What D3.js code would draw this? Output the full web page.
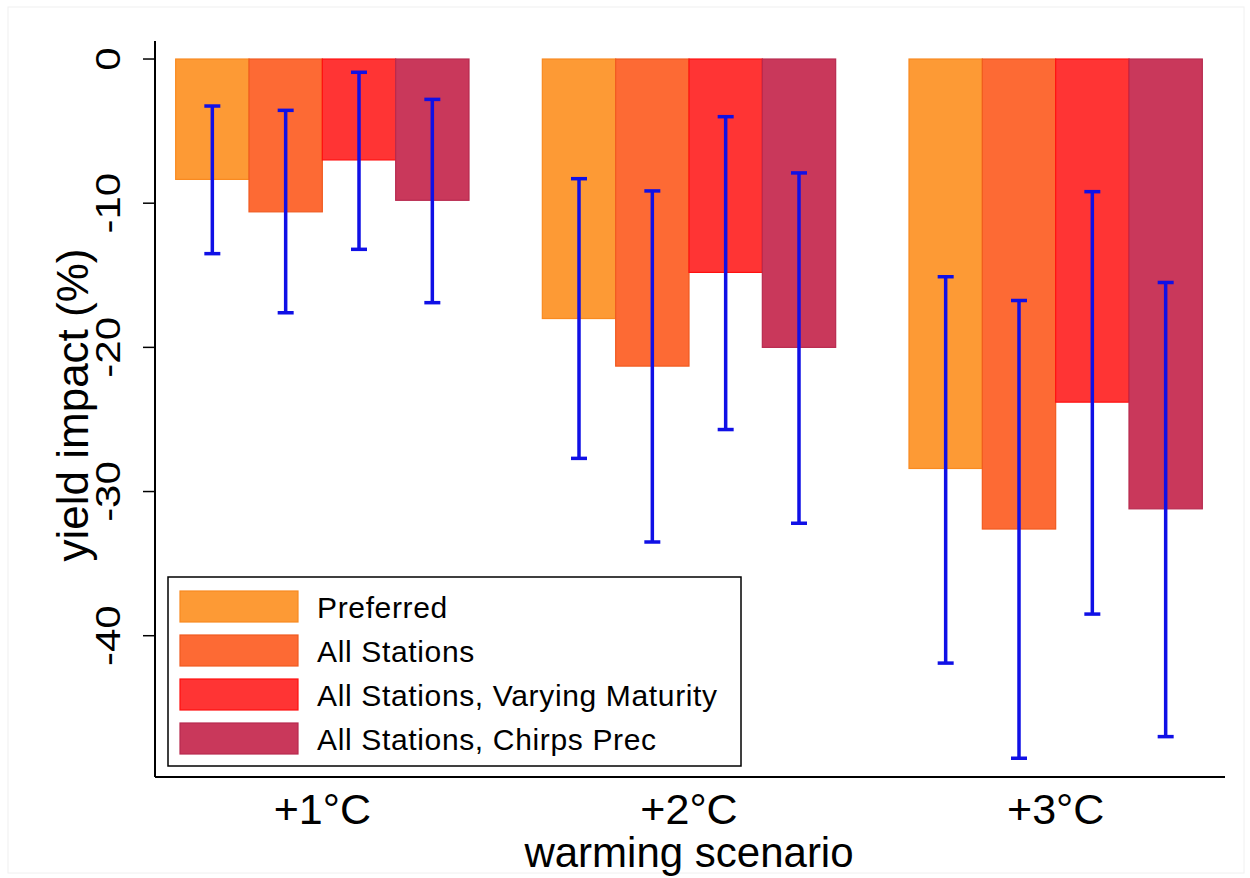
<!DOCTYPE html>
<meta charset="utf-8">
<style>
body { margin: 0; background: #fff; }
text { font-family: Arial, "Liberation Sans", Helvetica, sans-serif; fill: #000; }
.errbar line { stroke: #1010e6; stroke-width: 3.5px; }
</style>
<body>
<svg width="1250" height="878"></svg>
<script src="https://d3js.org/d3.v7.min.js"></script>
<script>

// scenarios on the x axis
var scenarios = ["+1°C", "+2°C", "+3°C"];
var seriesNames = ["Preferred", "All Stations", "All Stations, Varying Maturity", "All Stations, Chirps Prec"];
var fillColors = ["#fd9a35", "#fd6a34", "#ff3434", "#c9385b"];
var edgeColors = ["#f98a20", "#f05a20", "#ff1010", "#b82a4f"];

// bar values (yield impact %), one array per series, in scenario order
var preferred = [-8.35, -18.0, -28.4];
var allStations = [-10.6, -21.3, -32.6];
var varyingMaturity = [-7.0, -14.8, -23.8];
var chirpsPrec = [-9.8, -20.0, -31.2];

// confidence interval ends
var preferredHi = [-3.26, -8.3, -15.1];
var preferredLo = [-13.5, -27.7, -41.9];
var allStationsHi = [-3.56, -9.15, -16.75];
var allStationsLo = [-17.6, -33.5, -48.5];
var varyingHi = [-0.92, -4.0, -9.2];
var varyingLo = [-13.2, -25.7, -38.5];
var chirpsHi = [-2.8, -7.9, -15.5];
var chirpsLo = [-16.9, -32.2, -47.0];

var yTicks = [0, -10, -20, -30, -40];

var values = [preferred, allStations, varyingMaturity, chirpsPrec];
var his = [preferredHi, allStationsHi, varyingHi, chirpsHi];
var los = [preferredLo, allStationsLo, varyingLo, chirpsLo];

var rows = [];
scenarios.forEach(function(s, i) {
  seriesNames.forEach(function(n, j) {
    rows.push({scen: s, series: j, v: values[j][i], hi: his[j][i], lo: los[j][i]});
  });
});

var svg = d3.select("svg");

// faint frame
svg.append("rect").attr("x", 8).attr("y", 7).attr("width", 1236).attr("height", 866)
  .attr("fill", "none").attr("stroke", "#f0f0f0").attr("stroke-width", 1);

var y = d3.scaleLinear().domain([-49.8, 1.25]).range([777, 41]);
var x0 = d3.scaleBand().domain(scenarios).range([139, 1239]).paddingInner(0.2).paddingOuter(0.1);
var x1 = d3.scaleBand().domain(d3.range(seriesNames.length)).range([0, x0.bandwidth()]);

// bars
svg.append("g").selectAll("rect")
  .data(rows)
  .enter().append("rect")
    .attr("x", function(d) { return x0(d.scen) + x1(d.series); })
    .attr("y", function(d) { return y(0); })
    .attr("width", x1.bandwidth())
    .attr("height", function(d) { return y(d.v) - y(0); })
    .attr("fill", function(d) { return fillColors[d.series]; })
    .attr("stroke", function(d) { return edgeColors[d.series]; })
    .attr("stroke-width", 1.2);

// error bars
var eb = svg.append("g").attr("class", "errbar").selectAll("g")
  .data(rows)
  .enter().append("g")
    .attr("transform", function(d) { return "translate(" + (x0(d.scen) + x1(d.series) + x1.bandwidth() / 2) + ",0)"; });
eb.append("line").attr("x1", 0).attr("x2", 0)
  .attr("y1", function(d) { return y(d.hi); }).attr("y2", function(d) { return y(d.lo); });
eb.append("line").attr("x1", -8).attr("x2", 8)
  .attr("y1", function(d) { return y(d.hi); }).attr("y2", function(d) { return y(d.hi); });
eb.append("line").attr("x1", -8).attr("x2", 8)
  .attr("y1", function(d) { return y(d.lo); }).attr("y2", function(d) { return y(d.lo); });

// y axis
var yAxis = svg.append("g").attr("transform", "translate(155,0)");
yAxis.append("line").attr("x1", 0).attr("x2", 0).attr("y1", y.range()[1]).attr("y2", y.range()[0])
  .attr("stroke", "#000").attr("stroke-width", 2);
var yt = yAxis.selectAll(".tick").data(yTicks).enter().append("g")
  .attr("transform", function(d) { return "translate(0," + y(d) + ")"; });
yt.append("line").attr("x1", -12).attr("x2", 0).attr("stroke", "#000").attr("stroke-width", 1.5);
yt.append("text")
  .attr("transform", "translate(-35,0) rotate(-90) scale(1.2,1)")
  .attr("text-anchor", "middle")
  .style("font-size", "35px")
  .text(function(d) { return String(d); });

svg.append("text")
  .attr("transform", "translate(88,405) rotate(-90)")
  .attr("text-anchor", "middle")
  .style("font-size", "44px")
  .text("yield impact (%)");

// x axis
svg.append("line").attr("x1", 155).attr("x2", 1225).attr("y1", 777).attr("y2", 777)
  .attr("stroke", "#000").attr("stroke-width", 2);
svg.append("g").selectAll("text").data(scenarios).enter().append("text")
  .attr("x", function(d) { return x0(d) + x0.bandwidth() / 2; })
  .attr("y", 824)
  .attr("text-anchor", "middle")
  .style("font-size", "43px")
  .text(function(d) { return d; });
svg.append("text")
  .attr("x", 689).attr("y", 867)
  .attr("text-anchor", "middle")
  .style("font-size", "42px")
  .text("warming scenario");

// legend
var legend = svg.append("g");
legend.append("rect").attr("x", 168).attr("y", 577).attr("width", 573).attr("height", 189)
  .attr("fill", "#fff").attr("stroke", "#000").attr("stroke-width", 1.5);
var li = legend.selectAll(".item").data(seriesNames).enter().append("g")
  .attr("transform", function(d, i) { return "translate(180," + (591 + i * 44) + ")"; });
li.append("rect").attr("width", 118).attr("height", 31)
  .attr("fill", function(d, i) { return fillColors[i]; })
  .attr("stroke", function(d, i) { return edgeColors[i]; })
  .attr("stroke-width", 1.2);
li.append("text").attr("x", 137).attr("y", 27)
  .style("font-size", "30px")
  .style("letter-spacing", "0.65px")
  .text(function(d) { return d; });

</script>
</body>
